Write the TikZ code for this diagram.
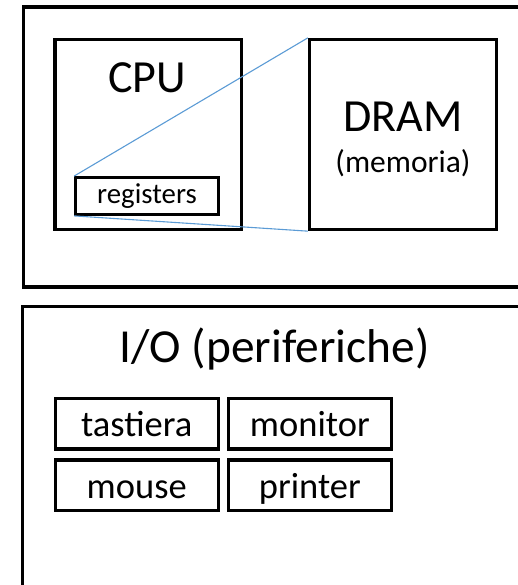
\documentclass[tikz,border=0pt]{standalone}
\usepackage{fontspec}
\setmainfont{Carlito}
\usetikzlibrary{positioning}
\definecolor{linkblue}{HTML}{5B9BD5}
\tikzset{
	frame/.style={line width=3.3pt},
	unit/.style={draw, line width=3.3pt, inner sep=0pt},
	regbox/.style={draw, line width=2.8pt, inner sep=0pt, minimum width=143pt, minimum height=37pt,
		text height=20pt, text depth=4pt, font=\fontsize{28.8}{34}\selectfont},
	devbox/.style={draw, line width=3.3pt, inner sep=0pt, minimum width=163pt, minimum height=50.5pt,
		text height=28pt, text depth=2pt, font=\fontsize{36.5}{42}\selectfont},
	zoomline/.style={linkblue, line width=1.1pt}
}

\begin{document}
\begin{tikzpicture}[x=1pt,y=-1pt]
		\useasboundingbox (0,0) rectangle (518,585);
		\clip (0,0) rectangle (518,585);
		%%%%% START %%%%%
		% computer
		\draw[frame] (23.5,7) rectangle (540,287);
		
		\node[unit, minimum width=186.5pt, minimum height=190pt] (cpu) at (148.25,134.5) {};
		\node[anchor=base, font=\fontsize{46}{55}\selectfont] (cputxt) at (147,93) {CPU};
		\node[regbox] (reg) at (147,196) {registers};
		
		\node[unit, minimum width=187pt, minimum height=190pt] (dram) at (403,134.5) {};
		\node[anchor=base, font=\fontsize{46}{55}\selectfont] (dramtxt) at (403,132) {DRAM};
		\node[anchor=base, font=\fontsize{31.5}{38}\selectfont] (memtxt) at (403,172.5) {(memoria)};
		
		\draw[zoomline] (reg.north west) -- (dram.north west);
		\draw[zoomline] (reg.south west) -- (dram.south west);
		
		% periferiche
		\draw[frame] (22.5,306.5) rectangle (540,600);
		\node[anchor=base, font=\fontsize{47.4}{57}\selectfont] (iotxt) at (274.5,362) {I/O (periferiche)};
		
		\node[devbox] (kbd) at (136.75,423.75) {tastiera};
		\node[devbox, right=6.8pt of kbd] (mon) {monitor};
		\node[devbox, below=7.8pt of kbd] (mouse) {mouse};
		\node[devbox, below=7.8pt of mon] (prn) {printer};
		%%%%% END %%%%%
	\end{tikzpicture}
\end{document}
